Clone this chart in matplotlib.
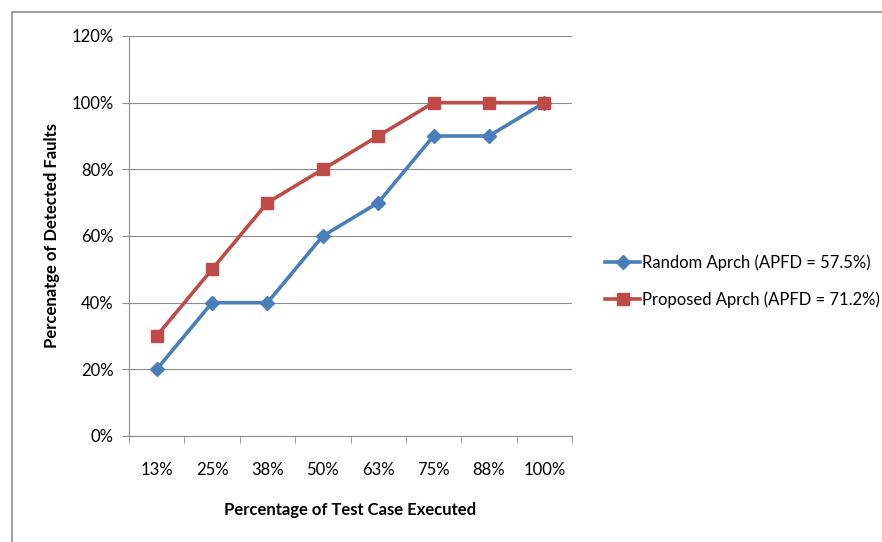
import matplotlib
matplotlib.use("Agg")
import matplotlib.pyplot as plt
from matplotlib.patches import Rectangle

categories = ["13%", "25%", "38%", "50%", "63%", "75%", "88%", "100%"]
random_vals = [20, 40, 40, 60, 70, 90, 90, 100]
proposed_vals = [30, 50, 70, 80, 90, 100, 100, 100]
yticks = [0, 20, 40, 60, 80, 100, 120]

plt.rcParams['font.family'] = ['Lato', 'DejaVu Sans']

fig = plt.figure(figsize=(8.82, 5.42), dpi=100)
fig.patches.append(Rectangle((12/882, -0.05), 1.1, 1 - 12/542 + 0.05,
                             transform=fig.transFigure, fill=False,
                             edgecolor='#8c8c8c', linewidth=1.2))

ax = fig.add_axes([129/882, 106/542, 443/882, 400/542])
x = list(range(len(categories)))
ax.plot(x, random_vals, color='#4A7EBB', linewidth=2.6, marker='D',
        markersize=7, label='Random Aprch (APFD = 57.5%)')
ax.plot(x, proposed_vals, color='#BE4B48', linewidth=2.6, marker='s',
        markersize=9, label='Proposed Aprch (APFD = 71.2%)')

ax.set_xlim(-0.5, len(categories) - 0.5)
ax.set_ylim(0, 120)
ax.set_yticks(yticks)
ax.set_yticklabels([f"{v}%" for v in yticks])
ax.set_xticks(x)
ax.set_xticklabels(categories)
ax.set_xticks([i - 0.5 for i in range(len(categories) + 1)], minor=True)
ax.tick_params(axis='x', which='major', length=0, pad=19, labelsize=12)
ax.tick_params(axis='x', which='minor', length=5, color='#8c8c8c')
ax.tick_params(axis='y', length=5, color='#8c8c8c', labelsize=12, pad=6)
ax.grid(axis='y', color='#8c8c8c', linewidth=0.8)
ax.set_axisbelow(True)
for s in ['top', 'right']:
    ax.spines[s].set_visible(False)
for s in ['left', 'bottom']:
    ax.spines[s].set_color('#8c8c8c')
ax.set_ylabel('Percenatge of Detected Faults', fontsize=12, fontweight='bold', labelpad=8)
ax.set_xlabel('Percentage of Test Case Executed', fontsize=12, fontweight='bold', labelpad=17)

fig.legend(loc='center left', bbox_to_anchor=(590/882, 1 - 281/542),
           frameon=False, fontsize=12, handlelength=2.1, handletextpad=0.1,
           labelspacing=1.25)

fig.savefig('out.png', dpi=100)
